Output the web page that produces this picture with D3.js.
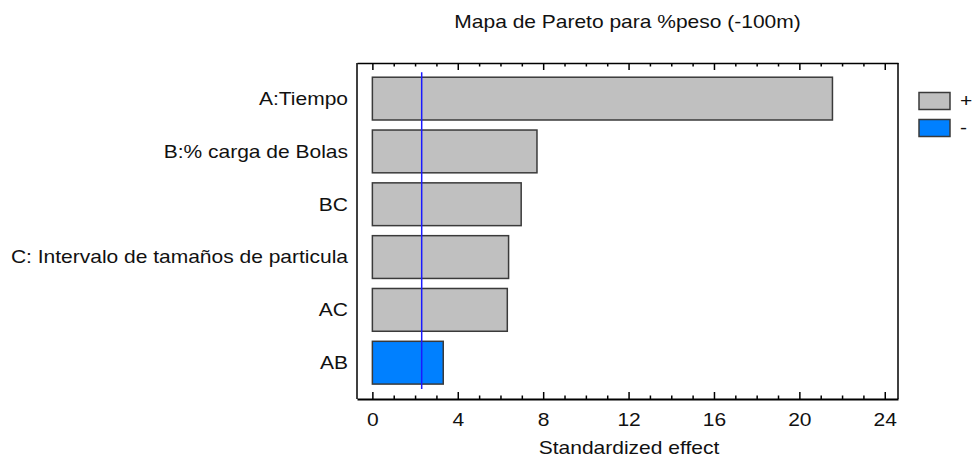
<!DOCTYPE html>
<html>
<head>
<meta charset="utf-8">
<script src="https://cdn.jsdelivr.net/npm/d3@7"></script>
<style>
  html, body { margin: 0; padding: 0; background: #fff; }
  svg { display: block; }
  text { font-family: "Liberation Sans", Arial, sans-serif; fill: #111; }
</style>
</head>
<body>
<svg id="chart" width="974" height="464"></svg>
<script>
// Pareto chart of standardized effects
const title = "Mapa de Pareto para %peso (-100m)";
const xTitle = "Standardized effect";
const effects = ["A:Tiempo", "B:% carga de Bolas", "BC", "C: Intervalo de tamaños de particula", "AC", "AB"];
const values = [21.55, 7.71, 6.97, 6.38, 6.32, 3.32];
const signs = ["+", "+", "+", "+", "+", "-"];
const criticalValue = 2.31;
const majorTicks = [0, 4, 8, 12, 16, 20, 24];
const minorTicks = d3.range(0, 25, 1).filter(v => v % 4 !== 0);
const legendKeys = ["+", "-"];

const colors = { "+": "#c0c0c0", "-": "#0080ff" };
const fontSize = 17.5;
const stretch = 1.2;   // wide horizontal letterforms

const svg = d3.select("#chart");
const frame = { left: 357, right: 898, top: 63, bottom: 399 };

const x = d3.scaleLinear().domain([-0.72, 24.62]).range([frame.left, frame.right]);
const y = d3.scaleBand().domain(effects).range([72.2, 389.1]).paddingInner(0.19).paddingOuter(0.095);

function wideText(sel, px, py, anchor) {
  return sel.append("text")
    .attr("transform", `translate(${px},${py}) scale(${stretch},1)`)
    .attr("text-anchor", anchor)
    .style("font-size", fontSize + "px");
}

// title
wideText(svg, (frame.left + frame.right) / 2, 27.5, "middle").text(title);

// bars
svg.append("g").selectAll("rect")
  .data(effects)
  .join("rect")
  .attr("x", x(0))
  .attr("y", d => y(d))
  .attr("width", (d, i) => x(values[i]) - x(0))
  .attr("height", y.bandwidth())
  .attr("fill", (d, i) => colors[signs[i]])
  .attr("stroke", "#3a3a3a")
  .attr("stroke-width", 1.5);

// category labels
const labelG = svg.append("g");
effects.forEach(d => {
  wideText(labelG, frame.left - 9, y(d) + y.bandwidth() / 2, "end")
    .attr("dy", "0.36em")
    .text(d);
});

// significance line
svg.append("line")
  .attr("x1", x(criticalValue)).attr("x2", x(criticalValue))
  .attr("y1", y.range()[0]).attr("y2", y.range()[1])
  .attr("stroke", "#1a1aff")
  .attr("stroke-width", 1.5);

// frame: left and right sides
svg.append("line").attr("x1", frame.left).attr("x2", frame.left)
  .attr("y1", frame.top).attr("y2", frame.bottom)
  .attr("stroke", "#000").attr("stroke-width", 1.5);
svg.append("line").attr("x1", frame.right).attr("x2", frame.right)
  .attr("y1", frame.top).attr("y2", frame.bottom)
  .attr("stroke", "#000").attr("stroke-width", 1.5);

// bottom axis with inward ticks
const bottomAxis = svg.append("g")
  .attr("transform", `translate(0,${frame.bottom})`)
  .call(d3.axisBottom(x).tickValues(majorTicks).tickSizeInner(-7).tickSizeOuter(0).tickPadding(14.5));
bottomAxis.select(".domain").attr("stroke", "#000").attr("stroke-width", 2);
bottomAxis.selectAll(".tick line").attr("stroke", "#000").attr("stroke-width", 1.5);
bottomAxis.selectAll(".tick text")
  .attr("font-family", null).attr("font-size", null)
  .style("font-size", fontSize + "px")
  .attr("transform", `scale(${stretch},1)`);

svg.append("g")
  .attr("transform", `translate(0,${frame.bottom})`)
  .call(d3.axisBottom(x).tickValues(minorTicks).tickSizeInner(-3.5).tickSizeOuter(0).tickFormat(""))
  .call(g => g.select(".domain").remove())
  .call(g => g.selectAll(".tick line").attr("stroke", "#000").attr("stroke-width", 1.5));

// top axis with inward ticks
const topAxis = svg.append("g")
  .attr("transform", `translate(0,${frame.top})`)
  .call(d3.axisTop(x).tickValues(majorTicks).tickSizeInner(-7).tickSizeOuter(0).tickFormat(""));
topAxis.select(".domain").attr("stroke", "#000").attr("stroke-width", 1.5);
topAxis.selectAll(".tick line").attr("stroke", "#000").attr("stroke-width", 1.5);

svg.append("g")
  .attr("transform", `translate(0,${frame.top})`)
  .call(d3.axisTop(x).tickValues(minorTicks).tickSizeInner(-3.5).tickSizeOuter(0).tickFormat(""))
  .call(g => g.select(".domain").remove())
  .call(g => g.selectAll(".tick line").attr("stroke", "#000").attr("stroke-width", 1.5));

// axis title
wideText(svg, 629, 454, "middle").text(xTitle);

// legend
const legend = svg.append("g");
legendKeys.forEach((k, i) => {
  legend.append("rect")
    .attr("x", 919).attr("y", 92.5 + i * 27)
    .attr("width", 31).attr("height", 17)
    .attr("fill", colors[k])
    .attr("stroke", "#3a3a3a").attr("stroke-width", 1.5);
  wideText(legend, 960, 101 + i * 27, "start").attr("dy", "0.36em").text(k);
});
</script>
</body>
</html>
